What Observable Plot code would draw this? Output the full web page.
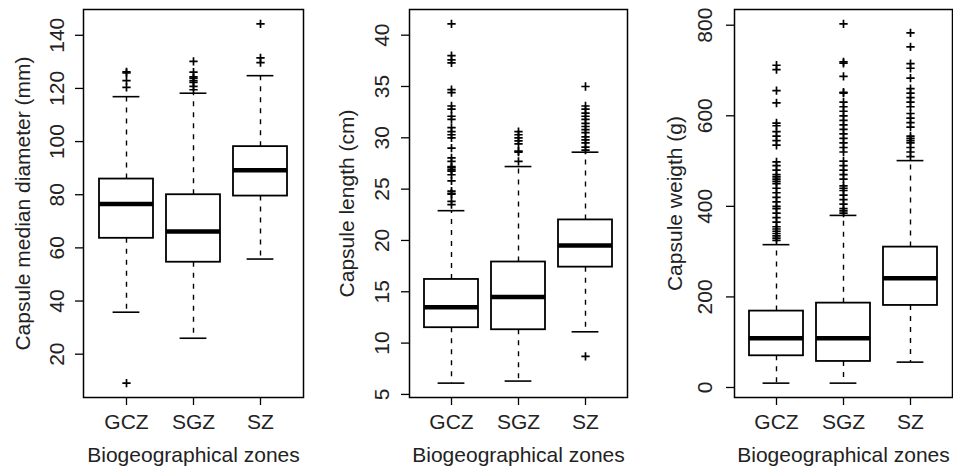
<!DOCTYPE html>
<html>
<head>
<meta charset="utf-8">
<script src="https://cdn.jsdelivr.net/npm/d3@7"></script>
<script src="https://cdn.jsdelivr.net/npm/@observablehq/plot@0.6"></script>
<style>
  html, body { margin: 0; padding: 0; background: white; }
  #wrap { position: relative; width: 953px; height: 468px; overflow: hidden; background: white; }
  #wrap > svg, #wrap > figure { position: absolute; top: 0; margin: 0; }
</style>
</head>
<body>
<div id="wrap"></div>
<script>
// ---- data ----
const zones = ["GCZ", "SGZ", "SZ"];
const xTitle = "Biogeographical zones";

// Panel 1: capsule median diameter (mm)
const diamTitle = "Capsule median diameter (mm)";
const diamTicks = [20, 40, 60, 80, 100, 120, 140];
const diamLow  = [35.8, 26.0, 55.8];
const diamQ1   = [63.6, 54.6, 79.5];
const diamMed  = [76.5, 66.2, 89.2];
const diamQ3   = [85.9, 80.0, 98.1];
const diamHigh = [116.9, 118.2, 124.8];
const diamOutGCZ = [126.2, 125.8, 122.9, 120.4, 9.1];
const diamOutSGZ = [130.2, 126.1, 124.4, 123.9, 122.9, 122.3, 120.8, 119.5];
const diamOutSZ  = [144.3, 131.5, 129.7];

// Panel 2: capsule length (cm)
const lenTitle = "Capsule length (cm)";
const lenTicks = [5, 10, 15, 20, 25, 30, 35, 40];
const lenLow  = [6.1, 6.3, 11.1];
const lenQ1   = [11.5, 11.3, 17.4];
const lenMed  = [13.5, 14.5, 19.5];
const lenQ3   = [16.2, 17.9, 22.0];
const lenHigh = [22.9, 27.2, 28.6];
const lenOutGCZ = [41.1, 38.0, 37.6, 37.3, 34.7, 34.4, 33.1, 32.8, 32.1, 31.8, 31.0, 30.6, 30.3, 30.0,
                   29.0, 28.05, 27.7, 27.2, 27.1, 26.9, 26.75, 26.4, 25.8, 24.8, 24.6, 24.5, 23.8, 23.5];
const lenOutSGZ = [30.6, 30.3, 30.0, 29.7, 29.4, 28.7, 28.6, 27.7];
const lenOutSZ  = [35.0, 33.1, 32.8, 32.4, 32.1, 31.8, 31.4, 31.1, 30.8, 30.5, 30.1, 29.8, 29.5, 29.1, 28.8, 8.7];

// Panel 3: capsule weight (g)
const wTitle = "Capsule weigth (g)";
const wTicks = [0, 200, 400, 600, 800];
const wLow  = [9.6, 9.6, 56];
const wQ1   = [70, 57.5, 181.2];
const wMed  = [109, 109, 241.5];
const wQ3   = [168.7, 186.3, 310];
const wHigh = [315.4, 380, 501];
const wOutGCZ = [711.6, 702, 655.7, 628.3, 584, 578, 565, 555, 545, 535, 498, 490, 480, 470, 465, 460,
                 455, 450, 440, 430, 420, 410, 400, 395, 385, 375, 365, 355, 350, 345, 340, 335, 330, 325];
const wOutSGZ = [803, 719, 716, 687, 652, 650, 630, 620, 610, 600, 590, 580, 570, 560, 550, 540, 530, 520,
                 500, 490, 480, 470, 460, 445, 440, 435, 425, 415, 405, 395, 390, 385];
const wOutSZ  = [783, 752, 715, 705, 683, 660, 650, 640, 630, 620, 605, 595, 585, 575, 555, 550, 545, 540,
                 530, 520, 510];

// ---- helpers ----
function stats(low, q1, med, q3, high) {
  return zones.map((z, i) => ({zone: z, low: low[i], q1: q1[i], med: med[i], q3: q3[i], high: high[i]}));
}
function outliers(lists) {
  return lists.flatMap((arr, i) => arr.map(v => ({zone: zones[i], v})));
}

const FONT = "'Liberation Sans', Arial, sans-serif";
const TXT = "#222";
const FS = 21;

function panel({title, ticks, domain, box, outs, left, width, mL, mR, titleDx, tickDx}) {
  const plot = Plot.plot({
    width, height: 468,
    marginLeft: mL, marginRight: mR, marginTop: 9, marginBottom: 71,
    style: {fontFamily: FONT, fontSize: FS + "px", color: TXT, background: "transparent", overflow: "visible"},
    x: {type: "band", domain: zones, paddingInner: 0.2, paddingOuter: 0.22, align: 0.5, axis: null},
    y: {domain, axis: null},
    marks: [
      // whiskers (dashed)
      Plot.ruleX(box, {x: "zone", y1: "q3", y2: "high", stroke: "black", strokeWidth: 1.4, strokeDasharray: "5,6"}),
      Plot.ruleX(box, {x: "zone", y1: "q1", y2: "low", stroke: "black", strokeWidth: 1.4, strokeDasharray: "5,6"}),
      // staples
      Plot.tickY(box, {x: "zone", y: "high", stroke: "black", strokeWidth: 1.6, insetLeft: 13.6, insetRight: 13.6}),
      Plot.tickY(box, {x: "zone", y: "low", stroke: "black", strokeWidth: 1.6, insetLeft: 13.6, insetRight: 13.6}),
      // boxes
      Plot.barY(box, {x: "zone", y1: "q1", y2: "q3", fill: "white", stroke: "black", strokeWidth: 1.8}),
      // medians
      Plot.tickY(box, {x: "zone", y: "med", stroke: "black", strokeWidth: 4.5}),
      // outliers
      Plot.dot(outs, {x: "zone", y: "v", symbol: "plus", r: 2.8, stroke: "black", strokeWidth: 1.7}),
      // frame
      Plot.frame({stroke: "black", strokeWidth: 1.5}),
      // y axis ticks + rotated labels
      Plot.axisY({ticks, tickSize: 8, tickFormat: () => "", stroke: "black", strokeWidth: 1.3, label: null}),
      Plot.text(ticks, {y: d => d, text: d => String(d), frameAnchor: "left", dx: tickDx, rotate: -90,
                        textAnchor: "middle", lineAnchor: "middle", fill: TXT, fontSize: FS}),
      // x axis
      Plot.axisX({tickSize: 8, tickPadding: 9, stroke: "black", strokeWidth: 1.3, fill: TXT, fontSize: FS, label: null}),
      // titles
      Plot.text([title], {text: d => d, frameAnchor: "left", dx: titleDx, rotate: -90,
                          textAnchor: "middle", lineAnchor: "middle", fill: TXT, fontSize: FS}),
      Plot.text([xTitle], {text: d => d, frameAnchor: "bottom", dy: 50,
                           textAnchor: "middle", lineAnchor: "top", fill: TXT, fontSize: FS})
    ]
  });
  plot.style.left = left + "px";
  document.getElementById("wrap").appendChild(plot);
}

panel({
  title: diamTitle, ticks: diamTicks, domain: [3.7, 149.7],
  box: stats(diamLow, diamQ1, diamMed, diamQ3, diamHigh),
  outs: outliers([diamOutGCZ, diamOutSGZ, diamOutSZ]),
  left: 0, width: 318, mL: 83, mR: 15, titleDx: -60, tickDx: -26
});
panel({
  title: lenTitle, ticks: lenTicks, domain: [4.7, 42.5],
  box: stats(lenLow, lenQ1, lenMed, lenQ3, lenHigh),
  outs: outliers([lenOutGCZ, lenOutSGZ, lenOutSZ]),
  left: 318, width: 318, mL: 91, mR: 9, titleDx: -62, tickDx: -27
});
panel({
  title: wTitle, ticks: wTicks, domain: [-22.1, 834.7],
  box: stats(wLow, wQ1, wMed, wQ3, wHigh),
  outs: outliers([wOutGCZ, wOutSGZ, wOutSZ]),
  left: 636, width: 317, mL: 98, mR: 1, titleDx: -59, tickDx: -29
});
</script>
</body>
</html>
